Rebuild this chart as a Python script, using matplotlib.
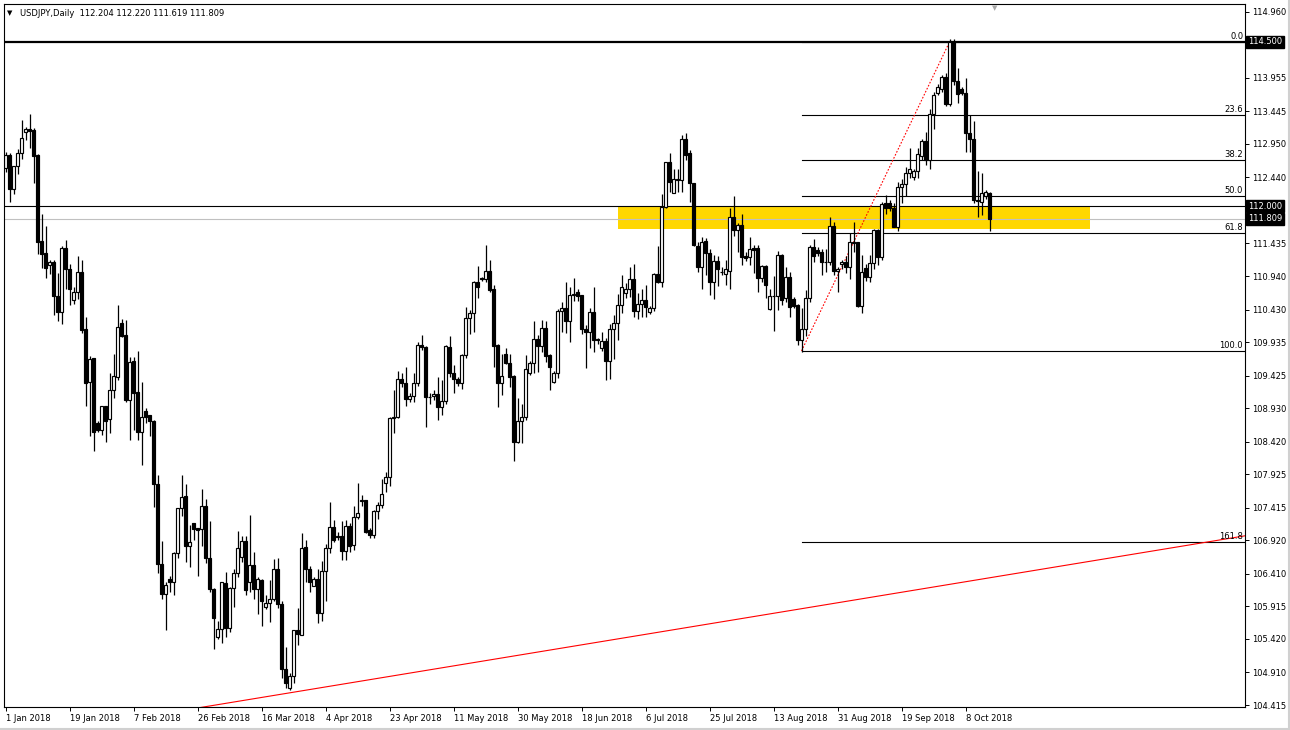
import numpy as np
import pandas as pd
import matplotlib
matplotlib.use("Agg")
import matplotlib.pyplot as plt
from matplotlib.transforms import blended_transform_factory
from matplotlib.patches import Rectangle

# daily USDJPY bars, broker feed has sunday candles (sun-fri)
dates = [d for d in pd.date_range("2018-01-01", "2018-10-15") if d.weekday() != 5]

opens = [112.58, 112.78, 112.26, 112.61, 112.81, 113.13, 113.17, 113.16, 112.78, 111.47,
         111.29, 111.10, 111.15, 110.64, 110.40, 111.36, 111.04, 110.57, 110.69, 111.00,
         110.13, 109.33, 109.69, 108.70, 108.60, 108.96, 108.76, 109.20, 109.41, 110.22,
         110.04, 109.06, 109.65, 109.17, 108.56, 108.88, 108.82, 108.74, 107.77, 106.56,
         106.11, 106.33, 106.28, 106.72, 107.41, 107.59, 106.84, 107.18, 107.10, 107.09,
         107.44, 106.65, 106.18, 105.45, 105.57, 106.27, 105.59, 106.19, 106.43, 106.66,
         106.91, 106.29, 106.55, 106.18, 106.32, 105.91, 105.97, 106.02, 106.49, 105.95,
         104.97, 104.67, 104.85, 105.56, 105.48, 106.82, 106.49, 106.23, 106.33, 105.81,
         106.45, 106.80, 107.13, 106.98, 106.98, 106.76, 107.14, 106.85, 107.27, 107.52,
         107.53, 107.07, 107.00, 107.36, 107.46, 107.79, 107.89, 108.78, 108.80, 109.38,
         109.31, 109.07, 109.11, 109.32, 109.89, 109.86, 109.10, 109.12, 109.15, 108.95,
         109.04, 109.86, 109.47, 109.37, 109.32, 109.74, 110.30, 110.37, 110.85, 110.91,
         110.90, 111.02, 110.74, 109.89, 109.32, 109.76, 109.62, 109.42, 108.42, 108.73,
         108.80, 109.46, 109.61, 109.98, 109.88, 110.15, 109.74, 109.33, 109.46, 110.41,
         110.46, 110.25, 110.65, 110.69, 110.65, 110.14, 110.09, 110.39, 109.98, 109.85,
         109.95, 109.64, 110.13, 110.22, 110.50, 110.68, 110.74, 110.89, 110.41, 110.51,
         110.57, 110.40, 110.45, 110.97, 110.85, 111.99, 112.68, 112.21, 112.41, 112.40,
         113.02, 112.81, 112.35, 111.40, 111.07, 111.47, 111.29, 110.85, 111.17, 111.00,
         110.97, 111.02, 111.83, 111.64, 111.71, 111.25, 111.23, 111.36, 111.36, 110.91,
         111.09, 110.44, 110.64, 110.63, 111.26, 110.60, 110.93, 110.59, 110.50, 109.96,
         110.13, 110.60, 111.38, 111.34, 111.30, 111.15, 111.15, 111.70, 111.01, 111.12,
         111.16, 111.08, 111.46, 111.45, 110.49, 111.06, 110.92, 111.14, 111.64, 111.23,
         112.05, 112.05, 111.97, 111.69, 112.29, 112.34, 112.50, 112.44, 112.54, 112.77,
         112.99, 112.70, 113.40, 113.73, 113.78, 113.96, 113.56, 114.50, 113.91, 113.79,
         113.72, 113.12, 113.02, 112.09, 112.07, 112.16, 112.204]
highs = [112.82, 112.81, 112.62, 112.87, 113.31, 113.21, 113.40, 113.19, 112.79, 111.88,
         111.70, 111.18, 111.18, 110.98, 111.40, 111.49, 111.13, 110.78, 111.24, 111.18,
         110.31, 109.73, 109.70, 108.73, 108.96, 108.97, 109.46, 109.76, 110.50, 110.29,
         110.27, 109.71, 109.71, 109.80, 109.33, 108.93, 108.83, 108.75, 107.91, 106.91,
         106.29, 106.38, 106.75, 107.41, 107.91, 107.78, 107.15, 107.19, 107.10, 107.70,
         107.55, 107.22, 106.19, 105.70, 106.29, 106.44, 106.21, 106.48, 107.06, 106.99,
         106.99, 107.31, 106.75, 106.36, 106.33, 106.09, 106.32, 106.63, 106.65, 105.99,
         105.29, 104.90, 105.56, 105.89, 107.03, 106.92, 106.53, 106.36, 106.49, 106.61,
         106.86, 107.50, 107.23, 107.05, 107.22, 107.23, 107.18, 107.44, 107.79, 107.61,
         107.54, 107.10, 107.38, 107.51, 107.86, 107.96, 108.80, 109.21, 109.49, 109.47,
         109.56, 109.16, 109.46, 109.94, 110.04, 109.87, 109.16, 109.21, 109.41, 109.36,
         109.89, 110.03, 109.59, 109.40, 109.76, 110.47, 110.42, 110.86, 111.09, 110.93,
         111.41, 111.19, 110.80, 109.90, 109.76, 109.84, 109.76, 109.43, 109.08, 109.00,
         109.74, 109.64, 110.25, 110.04, 110.27, 110.25, 109.76, 109.49, 110.44, 110.55,
         110.85, 110.78, 110.91, 110.75, 110.65, 110.19, 110.46, 110.78, 110.00, 110.09,
         110.00, 110.21, 110.35, 110.67, 110.96, 110.84, 111.08, 111.13, 110.68, 110.74,
         110.80, 110.48, 110.99, 111.39, 112.19, 112.68, 112.81, 112.56, 112.56, 113.09,
         113.11, 112.85, 112.36, 111.45, 111.54, 111.52, 111.35, 111.26, 111.25, 111.08,
         111.18, 111.97, 112.16, 111.74, 111.88, 111.30, 111.53, 111.41, 111.41, 111.10,
         111.11, 110.75, 110.94, 111.32, 111.27, 111.07, 111.00, 110.62, 110.52, 110.45,
         110.73, 111.41, 111.50, 111.38, 111.35, 111.35, 111.83, 111.76, 111.07, 111.18,
         111.24, 111.60, 111.76, 111.46, 111.26, 111.13, 111.26, 111.66, 111.66, 112.06,
         112.17, 112.09, 112.05, 112.37, 112.41, 112.60, 112.88, 112.56, 112.88, 113.03,
         113.13, 113.48, 113.74, 113.86, 114.00, 114.02, 114.55, 114.55, 114.10, 113.81,
         113.95, 113.39, 113.30, 112.54, 112.50, 112.25, 112.220]
lows = [112.52, 112.06, 112.19, 112.49, 112.72, 113.01, 112.88, 112.36, 111.27, 111.06,
        110.91, 110.97, 110.34, 110.25, 110.21, 110.75, 110.50, 110.51, 110.59, 110.07,
        108.97, 108.50, 108.28, 108.57, 108.52, 108.42, 108.55, 109.09, 109.36, 110.01,
        109.02, 108.45, 108.60, 108.45, 108.06, 108.71, 108.50, 107.42, 106.43, 106.03,
        105.56, 106.14, 106.09, 106.65, 107.29, 106.59, 106.52, 106.92, 106.38, 106.83,
        106.57, 106.13, 105.26, 105.42, 105.36, 105.45, 105.52, 105.91, 106.36, 106.59,
        106.09, 106.14, 106.02, 105.80, 105.61, 105.88, 105.68, 105.99, 105.89, 104.82,
        104.67, 104.64, 104.75, 105.33, 105.48, 106.28, 106.13, 106.22, 105.67, 105.70,
        106.00, 106.72, 106.90, 106.93, 106.62, 106.62, 106.75, 106.78, 107.25, 107.44,
        107.03, 106.95, 106.96, 107.25, 107.41, 107.65, 107.74, 108.55, 108.78, 109.25,
        108.96, 109.03, 109.03, 109.26, 109.82, 108.65, 109.00, 109.05, 108.75, 108.83,
        109.00, 109.40, 109.16, 109.27, 109.22, 109.70, 110.06, 110.09, 110.61, 110.87,
        110.85, 110.70, 109.56, 108.95, 109.13, 109.60, 109.25, 108.12, 108.40, 108.40,
        108.75, 109.44, 109.46, 109.48, 109.78, 109.63, 109.20, 109.31, 109.39, 110.09,
        110.08, 109.93, 110.56, 110.56, 110.06, 109.54, 109.84, 109.79, 109.90, 109.80,
        109.36, 109.37, 109.68, 109.97, 110.37, 110.60, 110.62, 110.32, 110.29, 110.32,
        110.32, 110.36, 110.41, 110.83, 110.78, 111.97, 112.22, 112.20, 112.22, 112.22,
        112.70, 112.06, 111.39, 111.00, 110.74, 110.96, 110.65, 110.59, 110.79, 110.95,
        110.81, 110.74, 111.55, 111.31, 111.10, 111.17, 111.10, 110.99, 110.70, 110.85,
        110.60, 110.42, 110.11, 110.43, 110.50, 110.55, 110.32, 110.45, 109.89, 109.79,
        110.03, 110.55, 111.15, 111.25, 110.95, 111.00, 111.10, 110.95, 110.69, 111.05,
        110.99, 110.89, 111.30, 110.47, 110.38, 110.86, 110.85, 111.05, 111.11, 111.18,
        111.89, 111.93, 111.68, 111.62, 112.05, 112.15, 112.43, 112.40, 112.43, 112.70,
        112.63, 112.56, 113.18, 113.70, 113.74, 113.53, 113.52, 113.85, 113.57, 113.70,
        112.82, 112.82, 112.05, 111.83, 111.87, 112.11, 111.619]
closes = [112.78, 112.26, 112.61, 112.81, 113.04, 113.18, 113.15, 112.77, 111.46, 111.27,
          111.06, 111.15, 110.63, 110.40, 111.37, 111.04, 110.74, 110.69, 111.00, 110.12,
          109.32, 109.68, 108.57, 108.60, 108.96, 108.74, 109.21, 109.42, 110.16, 110.03,
          109.06, 109.63, 109.16, 108.56, 108.79, 108.80, 108.73, 107.77, 106.56, 106.11,
          106.24, 106.28, 106.72, 107.41, 107.58, 106.84, 106.89, 107.09, 107.07, 107.44,
          106.65, 106.18, 105.74, 105.57, 106.28, 105.58, 106.19, 106.43, 106.81, 106.91,
          106.17, 106.55, 106.18, 106.33, 106.00, 105.96, 106.02, 106.49, 105.95, 104.97,
          104.75, 104.86, 105.56, 105.49, 106.81, 106.49, 106.28, 106.33, 105.81, 106.45,
          106.80, 107.12, 106.93, 106.97, 106.76, 107.14, 106.83, 107.27, 107.33, 107.54,
          107.05, 107.00, 107.36, 107.46, 107.63, 107.89, 108.78, 108.80, 109.38, 109.31,
          109.07, 109.11, 109.32, 109.89, 109.86, 109.10, 109.10, 109.15, 108.95, 109.04,
          109.87, 109.46, 109.37, 109.32, 109.74, 110.30, 110.37, 110.85, 110.78, 110.90,
          111.02, 110.73, 109.88, 109.32, 109.42, 109.62, 109.41, 108.41, 108.73, 108.80,
          109.52, 109.61, 109.98, 109.88, 110.15, 109.73, 109.55, 109.46, 110.41, 110.46,
          110.25, 110.65, 110.67, 110.64, 110.13, 110.09, 110.39, 109.96, 109.96, 109.95,
          109.64, 110.13, 110.22, 110.50, 110.77, 110.74, 110.89, 110.41, 110.51, 110.57,
          110.47, 110.45, 110.97, 110.85, 111.99, 112.67, 112.37, 112.41, 112.40, 113.02,
          112.78, 112.35, 111.41, 111.07, 111.46, 111.29, 110.85, 111.17, 111.04, 111.00,
          111.05, 111.83, 111.64, 111.71, 111.23, 111.22, 111.35, 111.34, 110.91, 111.09,
          110.81, 110.64, 110.63, 111.26, 110.57, 110.93, 110.47, 110.49, 109.96, 110.13,
          110.60, 111.38, 111.24, 111.29, 111.15, 111.15, 111.70, 111.01, 111.04, 111.15,
          111.08, 111.46, 111.44, 110.49, 111.00, 110.93, 111.14, 111.64, 111.23, 112.04,
          111.98, 111.97, 111.69, 112.29, 112.34, 112.50, 112.56, 112.54, 112.80, 112.99,
          112.70, 113.40, 113.69, 113.81, 113.96, 113.56, 114.50, 113.90, 113.71, 113.72,
          113.12, 113.02, 112.09, 112.08, 112.20, 112.22, 111.809]

date_labels = ["2018-01-01", "2018-01-19", "2018-02-07", "2018-02-26", "2018-03-16",
               "2018-04-04", "2018-04-23", "2018-05-11", "2018-05-30", "2018-06-18",
               "2018-07-06", "2018-07-25", "2018-08-13", "2018-08-31", "2018-09-19",
               "2018-10-08"]
price_ticks = [114.960, 114.450, 113.955, 113.445, 112.950, 112.440, 111.930, 111.435,
               110.940, 110.430, 109.935, 109.425, 108.930, 108.420, 107.925, 107.415,
               106.920, 106.410, 105.915, 105.420, 104.910, 104.415]
hidden_ticks = [114.450, 111.930]   # sit under the price boxes

# objects drawn on the chart
top_level = 114.500
sr_level = 112.000
bid_price = 111.809
zone_bars = (153, 271)            # yellow box, bar numbers
zone_prices = (111.66, 112.00)
fib_bars = (199, 236)             # swing low -> swing high
fib_prices = (109.80, 114.50)
fib_levels = [0.0, 23.6, 38.2, 50.0, 61.8, 100.0, 161.8]
trend_bars = (48, 310)
trend_prices = (104.37, 106.99)

o = np.array(opens); h = np.array(highs); l = np.array(lows); c = np.array(closes)
x = np.arange(len(o))

fig = plt.figure(figsize=(12.9, 7.3), dpi=100)
W, H = 1290, 730
ax = fig.add_axes([4 / W, 23 / H, 1241 / W, 703 / H])
ax.set_xlim(-0.375, 309.875)
ax.set_ylim(104.385, 115.077)

# zone + lines (background)
ax.add_patch(Rectangle((zone_bars[0], zone_prices[0]), zone_bars[1] - zone_bars[0],
                       zone_prices[1] - zone_prices[0], facecolor="#FFD700",
                       edgecolor="none", zorder=0.5))
ax.axhline(top_level, color="black", lw=1.6, zorder=1)
ax.axhline(sr_level, color="black", lw=0.8, zorder=1)
ax.axhline(bid_price, color="#C0C0C0", lw=0.8, zorder=1)

# fibonacci
rng = fib_prices[1] - fib_prices[0]
tr = blended_transform_factory(ax.transAxes, ax.transData)
for lv in fib_levels:
    p = fib_prices[1] - rng * lv / 100
    ax.plot([fib_bars[0], 400], [p, p], color="black", lw=0.8, zorder=1)
    ax.text(0.9985, p + 0.02, f"{lv:.1f}", transform=tr, ha="right", va="bottom",
            fontsize=6, zorder=3)
ax.plot(fib_bars, fib_prices, color="red", lw=0.8, ls=(0, (1.5, 1.5)), zorder=1)

# trendline
ax.plot(trend_bars, trend_prices, color="red", lw=0.8, zorder=1)

# candles
ax.vlines(x, l, h, color="black", lw=0.9, zorder=2)
bull = c >= o
ax.bar(x, c - o, bottom=o, width=0.55, color=np.where(bull, "white", "black"),
       edgecolor="black", linewidth=0.85, zorder=2.2)

# axes style
for s in ax.spines.values():
    s.set_linewidth(0.8)
    s.set_color("black")
ax.yaxis.tick_right()
ax.set_yticks(price_ticks)
ax.set_yticklabels(["" if t in hidden_ticks else f"{t:.3f}" for t in price_ticks])
ax.tick_params(axis="y", direction="out", length=3, width=0.7, pad=2, labelsize=6)

tick_idx = [dates.index(pd.Timestamp(d)) for d in date_labels]
ax.set_xticks(tick_idx)
ax.set_xticklabels([f"{pd.Timestamp(d).day} {pd.Timestamp(d).strftime('%b %Y')}" for d in date_labels])
for lab in ax.get_xticklabels():
    lab.set_horizontalalignment("left")
ax.tick_params(axis="x", direction="out", length=3, width=0.7, pad=2, labelsize=6)

# price boxes on the right scale
for p in [top_level, sr_level, bid_price]:
    ax.text(1.0025, p, f"{p:.3f}", transform=tr, ha="left", va="center", fontsize=6,
            color="white", zorder=5, clip_on=False,
            bbox=dict(facecolor="black", edgecolor="black", pad=1.2))

# header
fig.text(7 / W, 1 - 13 / H, "\u25bc", fontsize=5, va="center")
fig.text(20 / W, 1 - 13 / H, "USDJPY,Daily  112.204 112.220 111.619 111.809",
         fontsize=6, va="center")
fig.text(995 / W, 1 - 8 / H, "\u25bc", fontsize=5, color="#A8A8A8", ha="center", va="center")

# window frame
fig.add_artist(plt.Line2D([0, 1], [1.5 / H, 1.5 / H], color="#D0D0D0", lw=1.5))
fig.add_artist(plt.Line2D([1 - 1.5 / W, 1 - 1.5 / W], [0, 1], color="#D0D0D0", lw=1.5))

fig.savefig("out.png", dpi=100)
